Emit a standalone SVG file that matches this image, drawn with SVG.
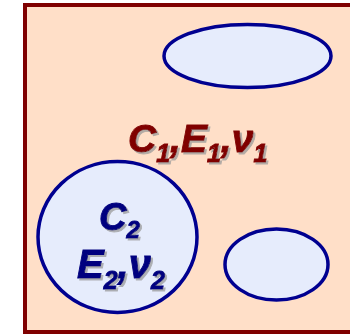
<svg xmlns="http://www.w3.org/2000/svg" width="350" height="335" viewBox="0 0 350 335">
<defs>
<style>
.lbl{font-family:"Liberation Sans",Arial,sans-serif;font-weight:bold;font-style:italic;stroke-width:0.9;paint-order:stroke;}
.red{fill:#800000;stroke:#800000;}
.blue{fill:#00007F;stroke:#00007F;}
.inc{fill:#E6ECFC;stroke:#000090;stroke-width:3.5;}
</style>
<filter id="sh" x="-10%" y="-10%" width="130%" height="140%">
<feGaussianBlur in="SourceAlpha" stdDeviation="0.6" result="b"/>
<feOffset in="b" dx="2" dy="2" result="o"/>
<feFlood flood-color="#999999" flood-opacity="0.75"/>
<feComposite in2="o" operator="in" result="s"/>
<feMerge><feMergeNode in="s"/><feMergeNode in="SourceGraphic"/></feMerge>
</filter>
</defs>
<g id="matrix">
<rect x="25" y="5" width="340" height="327" fill="#FFDFC8" stroke="#7F0000" stroke-width="4"/>
<text class="lbl red" x="128" y="152" font-size="39" filter="url(#sh)">C<tspan font-size="25" dy="10">1</tspan><tspan dy="-10">,E</tspan><tspan font-size="25" dy="10">1</tspan><tspan dy="-10">,ν</tspan><tspan font-size="25" dy="10">1</tspan></text>
</g>
<g id="inclusion-top">
<ellipse class="inc" cx="247.5" cy="56" rx="83.5" ry="31.5"/>
</g>
<g id="inclusion-small">
<ellipse class="inc" cx="276.5" cy="264.5" rx="51.5" ry="35.5"/>
</g>
<g id="inclusion-large">
<ellipse class="inc" cx="117.5" cy="237" rx="79.5" ry="75.5"/>
<text class="lbl blue" x="99" y="230" font-size="38" filter="url(#sh)">C<tspan font-size="24" dy="8">2</tspan></text>
<text class="lbl blue" x="77" y="278" font-size="40" filter="url(#sh)">E<tspan font-size="25" dy="11">2</tspan><tspan dy="-11">,ν</tspan><tspan font-size="25" dy="11">2</tspan></text>
</g>
<g id="connectors"/>
</svg>
